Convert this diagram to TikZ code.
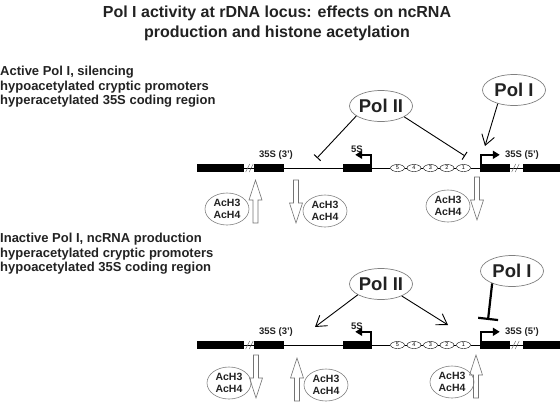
\documentclass[tikz,border=0pt]{standalone}
\usepackage{fontspec}
\setmainfont{Liberation Sans}
\usetikzlibrary{shapes.geometric,arrows.meta}
\definecolor{ink}{HTML}{222222}
\tikzset{
  titletext/.style={font=\fontsize{16}{20}\selectfont\bfseries, text=ink, align=center, inner sep=0},
  secttext/.style={font=\fontsize{13}{14.5}\selectfont\bfseries, text=ink, align=left, inner sep=0, anchor=west},
  polnode/.style={ellipse, draw=black!50, line width=0.7pt, minimum width=63pt, minimum height=31pt, inner sep=0, text=ink, font=\fontsize{18.5}{20}\selectfont\bfseries},
  achnode/.style={ellipse, draw=black!50, line width=0.6pt, minimum width=44pt, minimum height=32pt, inner sep=0, align=center, text=ink, font=\fontsize{10.5}{12.5}\selectfont\bfseries},
  numnode/.style={ellipse, draw=black, line width=0.4pt, minimum width=14pt, minimum height=7pt, inner sep=0, font=\fontsize{5.5}{6}\selectfont},
  blk/.style={rectangle, fill=black, minimum height=8pt, inner sep=0},
  genelbl/.style={font=\fontsize{9.5}{10}\selectfont\bfseries, text=ink, inner sep=0},
  dnaline/.style={line width=0.9pt},
  hashmark/.style={line width=0.5pt, black!60},
  prom/.style={line width=2.6pt, -{Triangle[length=7pt,width=8pt]}},
  inhib/.style={line width=0.9pt, -{Bar[width=9pt,line width=1pt]}},
  inhibthick/.style={line width=2.2pt, -{Bar[width=20pt,line width=2.2pt]}},
  activ/.style={line width=0.9pt, -{Straight Barb[length=10pt,width=13pt,line width=0.9pt]}},
  hollow/.style={draw=black!55, line width=0.6pt, fill=white},
  hup/.pic={\draw[hollow] (0,0) -- (6.5,20) -- (2.5,20) -- (2.5,43) -- (-2.5,43) -- (-2.5,20) -- (-6.5,20) -- cycle;},
  hdown/.pic={\draw[hollow] (0,0) -- (6.5,-20) -- (2.5,-20) -- (2.5,-43) -- (-2.5,-43) -- (-2.5,-20) -- (-6.5,-20) -- cycle;}
}
\newcommand\mylocus[2]{%
  \node[blk, minimum width=47pt] (a#1) at (220.5,#2) {};
  \node[blk, minimum width=30pt] (b#1) at (269,#2) {};
  \node[blk, minimum width=29pt] (c#1) at (357.5,#2) {};
  \node[blk, minimum width=30pt] (d#1) at (495,#2) {};
  \node[blk, minimum width=37pt] (e#1) at (541.5,#2) {};
  \node[numnode] (nv#1) at (397.5,#2) {5};
  \node[numnode] (niv#1) at (414,#2) {4};
  \node[numnode] (niii#1) at (430.5,#2) {3};
  \node[numnode] (nii#1) at (447,#2) {2};
  \node[numnode] (ni#1) at (463.5,#2) {1};
  \draw[dnaline] (a#1.east) -- (b#1.west) (b#1.east) -- (c#1.west)
     (c#1.east) -- (nv#1.west) (nv#1.east) -- (niv#1.west) (niv#1.east) -- (niii#1.west)
     (niii#1.east) -- (nii#1.west) (nii#1.east) -- (ni#1.west) (ni#1.east) -- (d#1.west)
     (d#1.east) -- (e#1.west);
  \draw[hashmark] ([shift={(1.5,4)}]a#1.east) -- ++(4,-8) ([shift={(5,4)}]a#1.east) -- ++(4,-8);
  \draw[hashmark] ([shift={(1.5,4)}]d#1.east) -- ++(4,-8) ([shift={(5,4)}]d#1.east) -- ++(4,-8);
  \draw[prom] ([xshift=-1.3pt]c#1.north east) |- ([shift={(-17,-9)}]c#1.north east);
  \draw[prom] ([xshift=1.3pt]d#1.north west) |- ([shift={(20,-9)}]d#1.north west);
  \node[genelbl] (l5s#1) at (357,{#2-19}) {5S};
  \node[genelbl] (l3#1) at (276,{#2-13}) {35S (3’)};
  \node[genelbl] (l5#1) at (522,{#2-13}) {35S (5’)};
}
\begin{document}
\begin{tikzpicture}[x=1pt,y=-1pt]
\useasboundingbox (0,0) rectangle (560,405);
\node[titletext] (title) at (277,23) {Pol I activity at rDNA locus: effects on ncRNA\\production and histone acetylation};
% ---------- section 1 ----------
\node[secttext] (s1) at (0,87) {Active Pol I, silencing\\hypoacetylated cryptic promoters\\hyperacetylated 35S coding region};
\mylocus{A}{168}
\node[polnode] (p2A) at (381,106) {Pol II};
\node[polnode] (p1A) at (514,90) {Pol I};
\coordinate (t1A) at (317,158);
\coordinate (t2A) at (465,156);
\coordinate (acA) at (485,146);
\draw[inhib] (p2A.202) -- (t1A);
\draw[inhib] (p2A.335) -- (t2A);
\draw[activ] (p1A.220) -- (acA);
\pic at (255.5,180) {hup};
\pic at (296,223) {hdown};
\pic at (477,220) {hdown};
\node[achnode] (h1A) at (227,209) {AcH3\\AcH4};
\node[achnode] (h2A) at (325,211) {AcH3\\AcH4};
\node[achnode] (h3A) at (448,206) {AcH3\\AcH4};
% ---------- section 2 ----------
\node[secttext] (s2) at (0,254) {Inactive Pol I, ncRNA production\\hyperacetylated cryptic promoters\\hypoacetylated 35S coding region};
\mylocus{B}{345}
\node[polnode] (p2B) at (381,284) {Pol II};
\node[polnode] (p1B) at (512,271) {Pol I};
\coordinate (t1B) at (315,327);
\coordinate (t2B) at (448,325);
\coordinate (tbB) at (488,320);
\draw[activ] (p2B.205) -- (t1B);
\draw[activ] (p2B.330) -- (t2B);
\draw[inhibthick] (p1B.212) -- (tbB);
\pic at (256,398) {hdown};
\pic at (297,358) {hup};
\pic at (476,355) {hup};
\node[achnode] (h1B) at (229,383) {AcH3\\AcH4};
\node[achnode] (h2B) at (326,385) {AcH3\\AcH4};
\node[achnode] (h3B) at (452,382) {AcH3\\AcH4};
\end{tikzpicture}
\end{document}
